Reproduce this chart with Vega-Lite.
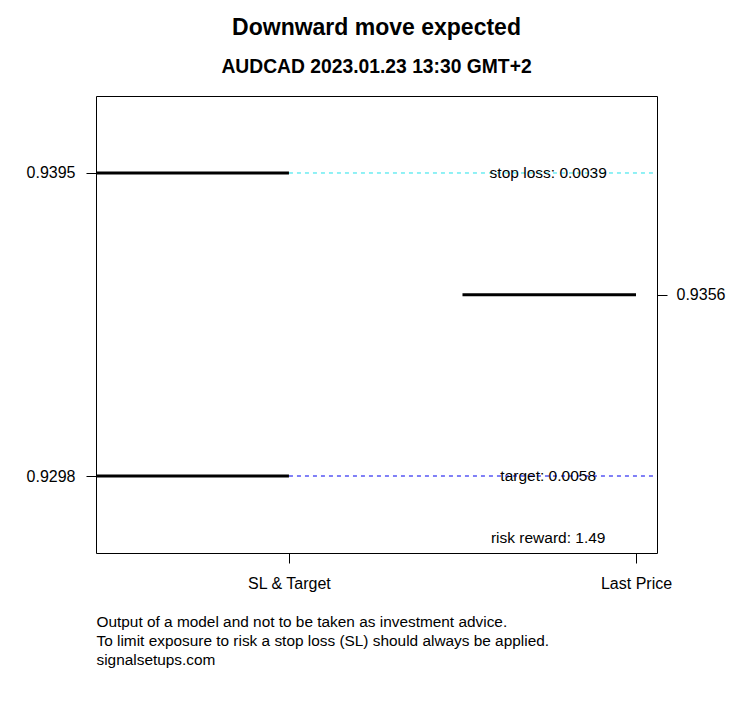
{
  "$schema": "https://vega.github.io/schema/vega-lite/v6.json",
  "width": 561,
  "height": 457,
  "autosize": {"type": "none"},
  "padding": {"left": 96, "top": 96, "right": 96, "bottom": 155},
  "background": "white",
  "title": {
    "text": "Downward move expected",
    "subtitle": "AUDCAD 2023.01.23 13:30 GMT+2",
    "anchor": "middle",
    "font": "Liberation Sans",
    "fontSize": 23,
    "fontWeight": "bold",
    "color": "black",
    "subtitleFont": "Liberation Sans",
    "subtitleFontSize": 19.3,
    "subtitleFontWeight": "bold",
    "subtitleColor": "black",
    "subtitlePadding": 18,
    "offset": 19
  },
  "datasets": {
    "levels": [
      {"name": "stop loss", "x": 0.444, "x2": 1, "y": 0.9395},
      {"name": "target", "x": 0.444, "x2": 1, "y": 0.9298},
      {"name": "last price", "x": 1.5, "x2": 2, "y": 0.9356}
    ],
    "guides": [
      {"name": "stop loss", "x": 1, "x2": 2.07, "y": 0.9395},
      {"name": "target", "x": 1, "x2": 2.07, "y": 0.9298}
    ],
    "notes": [
      {"label": "stop loss: 0.0039", "x": 1.747, "y": 0.9395},
      {"label": "target: 0.0058", "x": 1.747, "y": 0.9298},
      {"label": "risk reward: 1.49", "x": 1.747, "y": 0.92782}
    ]
  },
  "layer": [
    {
      "data": {"name": "guides"},
      "mark": {"type": "rule", "strokeWidth": 1, "strokeDash": [4, 4], "clip": true},
      "encoding": {
        "x": {"field": "x", "type": "quantitative", "scale": {"domain": [0.444, 2.0605], "nice": false, "zero": false},
          "axis": {"values": [1, 2], "labelExpr": "datum.value == 1 ? 'SL & Target' : 'Last Price'",
            "title": ["Output of a model and not to be taken as investment advice.", "To limit exposure to risk a stop loss (SL) should always be applied.", "signalsetups.com"],
            "titleAnchor": "start", "titleAlign": "left", "titleFont": "Liberation Sans", "titleFontSize": 15.4, "titleFontWeight": "normal",
            "titleColor": "black", "titleLineHeight": 19, "titlePadding": 23, "labelPadding": 12}},
        "x2": {"field": "x2"},
        "y": {"field": "y", "type": "quantitative", "scale": {"domain": [0.927335, 0.941965], "nice": false, "zero": false},
          "axis": {"orient": "left", "values": [0.9395, 0.9298], "format": ".4f", "title": null, "labelPadding": 11}},
        "color": {"field": "name", "type": "nominal", "scale": {"domain": ["stop loss", "target"], "range": ["#22E2EA", "#0000EE"]}, "legend": null}
      }
    },
    {
      "data": {"name": "levels"},
      "mark": {"type": "rule", "strokeWidth": 3, "color": "black", "clip": true},
      "encoding": {
        "x": {"field": "x", "type": "quantitative"},
        "x2": {"field": "x2"},
        "y": {"field": "y", "type": "quantitative",
          "axis": {"orient": "right", "values": [0.9356], "format": ".4f", "title": null, "labelPadding": 9}}
      }
    },
    {
      "data": {"name": "notes"},
      "mark": {"type": "text", "font": "Liberation Sans", "fontSize": 15.5, "color": "black", "align": "center", "baseline": "middle"},
      "encoding": {
        "x": {"field": "x", "type": "quantitative"},
        "y": {"field": "y", "type": "quantitative", "axis": null},
        "text": {"field": "label"}
      }
    }
  ],
  "resolve": {"axis": {"y": "independent"}},
  "config": {
    "view": {"stroke": "black", "strokeWidth": 1},
    "axis": {
      "domain": false,
      "grid": false,
      "ticks": true,
      "tickColor": "black",
      "tickSize": 10,
      "labelColor": "black",
      "labelFont": "Liberation Sans",
      "labelFontSize": 16
    }
  }
}
